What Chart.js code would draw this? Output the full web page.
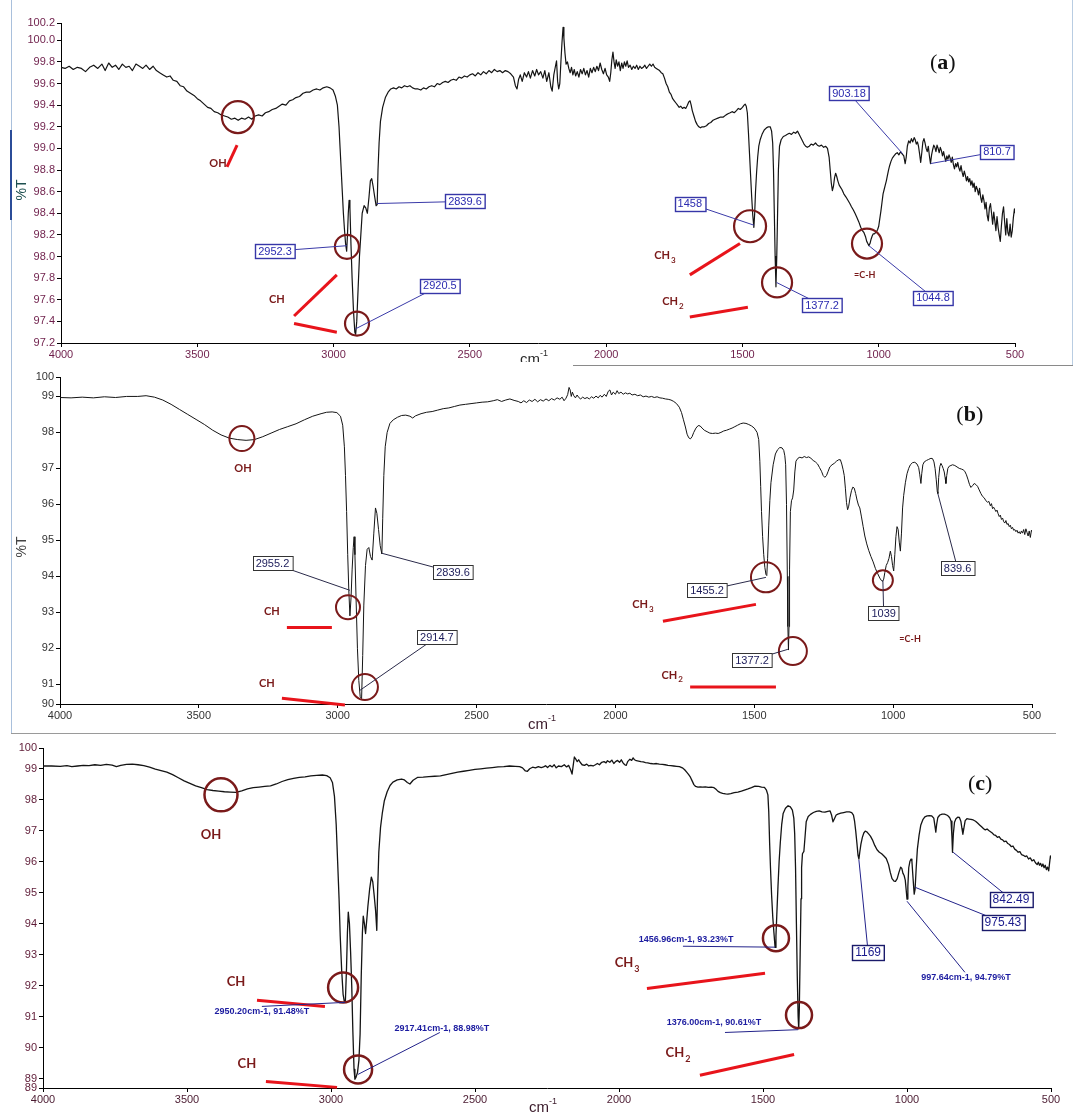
<!DOCTYPE html>
<html>
<head>
<meta charset="utf-8">
<script src="https://cdn.jsdelivr.net/npm/chart.js@4.4.1/dist/chart.umd.min.js"></script>
<style>
  body { margin: 0; background: #fff; }
  #page { position: relative; width: 1078px; height: 1115px; overflow: hidden; background: #fff; }
  canvas { position: absolute; left: 0; }
  .rule { position: absolute; }
</style>
</head>
<body>
<div id="page">
  <div class="rule" style="left:11px;top:0;width:1px;height:733px;background:#a9c0dc"></div>
  <div class="rule" style="left:10px;top:130px;width:2px;height:90px;background:#2b4c98"></div>
  <div class="rule" style="left:1072px;top:0;width:1px;height:365px;background:#b9cde2"></div>
  <div class="rule" style="left:573px;top:365px;width:500px;height:1px;background:#8a8a8a"></div>
  <div class="rule" style="left:11px;top:733px;width:1045px;height:1px;background:#9a9a9a"></div>
  <canvas id="chartA" width="1078" height="362" style="top:0"></canvas>
  <canvas id="chartB" width="1078" height="371" style="top:362px"></canvas>
  <canvas id="chartC" width="1078" height="382" style="top:733px"></canvas>
</div>
<script>
const tickFont = "'Liberation Sans', Arial, sans-serif";
const noteFont = "Lato, 'Liberation Sans', sans-serif";
const maroon = '#7a1a1a';
const red = '#e8141b';

const xTicks = [4000, 3500, 3000, 2500, 2000, 1500, 1000, 500];
const yTicksA = [97.2, 97.4, 97.6, 97.8, 98.0, 98.2, 98.4, 98.6, 98.8, 99.0, 99.2, 99.4, 99.6, 99.8, 100.0, 100.16];
const yTicksB = [90.45, 91, 92, 93, 94, 95, 96, 97, 98, 99, 99.54];
const yTicksC = [88.7, 89, 90, 91, 92, 93, 94, 95, 96, 97, 98, 99, 99.66];

// spectrum (a): [wavenumber cm-1, %T]
const specA = [
  [4000,99.75],[3985,99.74],[3970,99.76],[3955,99.73],[3940,99.75],[3925,99.74],[3910,99.71],[3895,99.75],[3880,99.77],[3865,99.74],
  [3850,99.78],[3838,99.72],[3825,99.79],[3812,99.75],[3800,99.77],[3788,99.73],[3775,99.78],[3762,99.75],[3750,99.76],[3738,99.72],
  [3725,99.78],[3712,99.76],[3700,99.74],[3688,99.77],[3675,99.73],[3662,99.76],[3650,99.72],[3638,99.70],[3625,99.68],[3612,99.66],
  [3600,99.67],[3588,99.63],[3575,99.62],[3563,99.58],[3550,99.57],[3538,99.53],[3525,99.51],[3512,99.49],[3500,99.46],[3488,99.44],
  [3475,99.41],[3462,99.38],[3450,99.37],[3438,99.34],[3425,99.33],[3412,99.31],[3400,99.30],[3388,99.29],[3375,99.27],[3362,99.28],
  [3350,99.26],[3338,99.28],[3325,99.27],[3312,99.29],[3300,99.27],[3288,99.30],[3275,99.31],[3262,99.30],[3250,99.33],[3238,99.34],
  [3225,99.36],[3212,99.37],[3200,99.39],[3188,99.41],[3175,99.40],[3162,99.44],[3150,99.45],[3138,99.47],[3125,99.48],[3112,99.51],
  [3100,99.52],[3088,99.52],[3075,99.54],[3062,99.55],[3050,99.54],[3038,99.56],[3025,99.57],[3013,99.56],[3002,99.54],[2993,99.48],
  [2986,99.40],[2980,99.20],[2976,99.00],[2972,98.80],[2968,98.60],[2964,98.40],[2960,98.25],[2956,98.12],[2952,98.05],[2949,98.20],
  [2946,98.40],[2943,98.52],[2940,98.45],[2936,98.10],[2932,97.80],[2927,97.50],[2922,97.30],[2919,97.28],[2915,97.40],[2910,97.70],
  [2905,98.00],[2900,98.20],[2895,98.40],[2888,98.47],[2882,98.45],[2876,98.40],[2870,98.55],[2865,98.70],[2860,98.72],[2855,98.65],
  [2849,98.55],[2844,98.47],[2840,98.48],[2837,98.80],[2833,99.05],[2828,99.25],[2820,99.38],[2810,99.47],[2800,99.52],[2790,99.55],
  [2780,99.56],[2770,99.55],[2760,99.57],[2750,99.56],[2740,99.58],[2730,99.57],[2720,99.58],[2710,99.56],[2700,99.55],[2690,99.55],
  [2680,99.54],[2670,99.56],[2660,99.55],[2650,99.57],[2640,99.58],[2630,99.57],[2620,99.60],[2610,99.59],[2600,99.61],[2590,99.62],
  [2580,99.61],[2570,99.63],[2560,99.64],[2550,99.63],[2540,99.66],[2530,99.65],[2520,99.67],[2510,99.66],[2500,99.68],[2490,99.69],
  [2480,99.67],[2470,99.70],[2460,99.68],[2450,99.71],[2440,99.69],[2430,99.72],[2420,99.70],[2410,99.73],[2400,99.71],[2390,99.72],
  [2380,99.70],[2370,99.72],[2360,99.71],[2350,99.69],[2340,99.66],[2333,99.58],[2327,99.55],[2321,99.64],[2315,99.68],[2308,99.62],
  [2300,99.70],[2292,99.66],[2285,99.71],[2278,99.65],[2270,99.72],[2262,99.67],[2255,99.73],[2248,99.68],[2240,99.71],[2232,99.65],
  [2225,99.72],[2218,99.62],[2210,99.70],[2203,99.57],[2198,99.53],[2192,99.68],[2186,99.76],[2182,99.81],[2178,99.62],[2174,99.55],
  [2170,99.60],[2166,99.80],[2162,99.98],[2158,100.12],[2155,100.02],[2151,99.88],[2147,99.78],[2142,99.80],[2137,99.74],[2132,99.70],
  [2127,99.75],[2122,99.68],[2117,99.73],[2112,99.67],[2106,99.71],[2100,99.66],[2094,99.73],[2088,99.69],[2082,99.74],[2076,99.68],
  [2070,99.72],[2064,99.66],[2058,99.74],[2052,99.70],[2046,99.75],[2040,99.71],[2034,99.76],[2028,99.72],[2022,99.79],[2016,99.73],
  [2010,99.69],[2004,99.74],[1998,99.68],[1992,99.66],[1987,99.62],[1983,99.70],[1979,99.82],[1975,99.89],[1971,99.80],[1967,99.74],
  [1963,99.82],[1958,99.76],[1953,99.80],[1948,99.72],[1943,99.79],[1938,99.74],[1933,99.80],[1928,99.76],[1923,99.81],[1918,99.75],
  [1912,99.77],[1906,99.73],[1900,99.76],[1894,99.74],[1888,99.77],[1882,99.73],[1876,99.76],[1870,99.74],[1864,99.75],[1858,99.77],
  [1852,99.74],[1846,99.76],[1840,99.78],[1834,99.76],[1828,99.78],[1822,99.75],[1816,99.74],[1810,99.73],[1804,99.72],[1798,99.70],
  [1792,99.69],[1786,99.65],[1780,99.60],[1774,99.57],[1768,99.52],[1762,99.50],[1756,99.46],[1750,99.44],[1744,99.42],[1738,99.40],
  [1732,99.38],[1726,99.39],[1720,99.37],[1714,99.38],[1708,99.37],[1702,99.40],[1697,99.43],[1692,99.44],[1688,99.40],[1684,99.35],
  [1678,99.30],[1672,99.25],[1666,99.22],[1660,99.20],[1654,99.19],[1648,99.20],[1640,99.20],[1632,99.21],[1624,99.23],[1616,99.24],
  [1608,99.26],[1600,99.27],[1590,99.28],[1580,99.29],[1570,99.29],[1560,99.31],[1553,99.32],[1545,99.33],[1538,99.34],[1530,99.33],
  [1522,99.35],[1515,99.37],[1508,99.36],[1500,99.38],[1494,99.40],[1490,99.41],[1486,99.39],[1482,99.33],[1478,99.15],[1474,98.95],
  [1470,98.75],[1466,98.55],[1462,98.38],[1458,98.27],[1455,98.40],[1452,98.60],[1448,98.78],[1444,98.92],[1440,99.02],[1435,99.08],
  [1428,99.13],[1420,99.17],[1412,99.19],[1405,99.20],[1398,99.20],[1393,99.16],[1389,99.05],[1386,98.80],[1383,98.40],[1380,98.00],
  [1377,97.72],[1374,98.00],[1371,98.40],[1368,98.80],[1364,99.02],[1358,99.08],[1350,99.11],[1342,99.12],[1335,99.13],[1328,99.14],
  [1320,99.13],[1312,99.15],[1305,99.14],[1298,99.16],[1292,99.13],[1286,99.10],[1280,99.07],[1274,99.04],[1268,99.02],[1262,99.01],
  [1255,99.02],[1248,99.04],[1240,99.03],[1232,99.05],[1225,99.03],[1218,99.02],[1210,99.03],[1202,99.01],[1195,99.02],[1188,99.00],
  [1182,98.92],[1178,98.80],[1174,98.68],[1170,98.61],[1166,98.65],[1162,98.73],[1158,98.77],[1154,98.74],[1150,98.70],[1145,98.66],
  [1140,98.64],[1135,98.62],[1128,98.58],[1120,98.55],[1113,98.52],[1106,98.49],[1100,98.46],[1093,98.43],[1087,98.40],[1080,98.36],
  [1073,98.32],[1066,98.27],[1060,98.24],[1054,98.22],[1048,98.18],[1044,98.14],[1040,98.12],[1036,98.10],[1032,98.12],[1028,98.16],
  [1024,98.19],[1020,98.21],[1016,98.21],[1012,98.22],[1008,98.23],[1004,98.25],[1000,98.28],[996,98.35],[992,98.42],[988,98.50],
  [984,98.58],[980,98.62],[976,98.66],[972,98.70],[968,98.75],[964,98.80],[960,98.84],[955,98.88],[950,98.91],[944,98.93],
  [938,98.95],[932,98.96],[926,98.94],[920,98.97],[914,98.95],[908,98.93],[903,98.86],[899,98.92],[895,99.02],[890,99.07],
  [885,99.05],[880,99.09],[875,99.06],[870,99.10],[866,99.08],[862,99.04],[858,99.06],[854,99.02],[850,98.95],[846,98.87],
  [842,98.96],[838,99.06],[834,99.09],[830,99.05],[826,99.00],[822,98.97],[818,99.02],[814,98.93],[810,98.86],[806,98.94],
  [802,98.99],[798,99.03],[794,99.01],[790,98.97],[786,99.03],[782,99.00],[778,98.96],[774,99.01],[770,98.98],[766,98.93],
  [762,98.97],[758,98.92],[754,98.88],[750,98.93],[746,98.90],[742,98.94],[738,98.91],[734,98.87],[730,98.92],[726,98.85],
  [722,98.81],[718,98.86],[714,98.83],[710,98.87],[706,98.82],[702,98.79],[698,98.84],[694,98.78],[690,98.74],[686,98.79],
  [682,98.75],[678,98.70],[674,98.74],[670,98.69],[666,98.72],[662,98.66],[658,98.70],[654,98.64],[650,98.68],[646,98.60],
  [642,98.65],[638,98.62],[634,98.57],[630,98.63],[626,98.55],[622,98.50],[618,98.57],[614,98.52],[610,98.44],[606,98.50],
  [602,98.38],[598,98.33],[594,98.45],[590,98.49],[586,98.40],[582,98.30],[578,98.41],[574,98.33],[570,98.24],[566,98.37],
  [562,98.27],[558,98.20],[554,98.14],[550,98.28],[546,98.40],[542,98.46],[538,98.32],[534,98.20],[530,98.35],[526,98.22],
  [522,98.19],[518,98.30],[514,98.18],[510,98.24],[506,98.36],[502,98.44],[500,98.40]
];

// spectrum (b)
const specB = [
  [4000,98.97],[3960,98.96],[3920,98.98],[3880,98.96],[3840,98.99],[3800,98.97],[3760,99.00],[3720,99.00],[3690,99.02],[3660,98.98],
  [3630,98.90],[3600,98.78],[3570,98.64],[3540,98.50],[3510,98.36],[3480,98.22],[3450,98.06],[3420,97.93],[3390,97.84],[3360,97.80],
  [3330,97.78],[3300,97.80],[3270,97.88],[3240,97.98],[3210,98.08],[3180,98.16],[3150,98.24],[3120,98.35],[3090,98.45],[3060,98.52],
  [3040,98.56],[3020,98.57],[3003,98.55],[2990,98.45],[2982,98.20],[2976,97.60],[2972,96.80],[2968,95.80],[2964,94.60],[2960,93.60],
  [2956,92.90],[2952,93.40],[2948,94.20],[2944,94.80],[2941,95.10],[2938,94.60],[2934,93.40],[2929,92.00],[2924,91.10],[2919,90.65],
  [2914,90.60],[2910,91.80],[2906,93.20],[2900,94.30],[2894,94.75],[2888,94.80],[2882,94.55],[2876,94.45],[2870,95.20],[2864,95.90],
  [2859,95.75],[2853,95.30],[2847,94.85],[2841,94.62],[2838,95.60],[2834,96.80],[2829,97.60],[2822,98.00],[2812,98.25],[2800,98.35],
  [2785,98.42],[2770,98.47],[2755,98.48],[2740,98.45],[2730,98.40],[2720,98.46],[2700,98.52],[2680,98.56],[2660,98.58],[2640,98.62],
  [2620,98.66],[2600,98.68],[2580,98.72],[2560,98.76],[2540,98.78],[2520,98.80],[2500,98.82],[2480,98.84],[2460,98.85],[2440,98.88],
  [2425,98.91],[2410,98.86],[2395,98.90],[2380,98.93],[2365,98.89],[2350,98.86],[2340,98.82],[2330,98.88],[2320,98.83],[2310,98.90],
  [2300,98.86],[2290,98.92],[2280,98.85],[2270,98.91],[2260,98.87],[2250,98.93],[2240,98.88],[2230,98.94],[2220,98.90],[2210,98.96],
  [2200,98.92],[2192,98.98],[2185,98.88],[2178,98.95],[2172,99.05],[2167,99.25],[2163,99.18],[2159,99.00],[2155,99.12],[2150,99.02],
  [2144,98.96],[2138,99.04],[2132,98.97],[2125,98.93],[2118,98.98],[2110,98.94],[2102,98.97],[2094,98.93],[2086,98.99],[2078,98.95],
  [2070,99.01],[2062,98.96],[2055,99.03],[2048,98.98],[2040,99.06],[2033,99.00],[2026,99.14],[2020,99.18],[2014,99.04],[2008,99.12],
  [2000,99.06],[1994,99.16],[1988,99.08],[1980,99.12],[1972,99.06],[1964,99.10],[1956,99.07],[1948,99.09],[1940,99.04],[1930,99.06],
  [1920,99.02],[1910,99.04],[1900,98.99],[1890,99.01],[1880,98.98],[1870,99.00],[1860,98.97],[1850,98.99],[1840,98.96],[1830,98.95],
  [1820,98.93],[1810,98.92],[1800,98.90],[1790,98.86],[1780,98.80],[1770,98.70],[1762,98.55],[1755,98.35],[1748,98.15],[1742,97.95],
  [1736,97.85],[1730,97.82],[1724,97.88],[1718,98.00],[1710,98.12],[1702,98.19],[1695,98.18],[1688,98.12],[1680,98.06],[1670,98.02],
  [1660,97.98],[1650,97.97],[1640,97.98],[1630,97.97],[1620,98.00],[1610,98.04],[1600,98.06],[1590,98.09],[1580,98.12],[1570,98.16],
  [1560,98.20],[1550,98.24],[1540,98.26],[1530,98.25],[1520,98.22],[1510,98.18],[1500,98.12],[1490,98.00],[1484,97.80],[1480,97.20],
  [1477,96.50],[1474,95.80],[1470,95.10],[1466,94.60],[1462,94.25],[1458,94.05],[1455,94.02],[1452,94.50],[1448,95.40],[1444,96.10],
  [1440,96.60],[1432,97.10],[1424,97.40],[1416,97.52],[1408,97.58],[1400,97.57],[1394,97.50],[1390,97.35],[1387,97.10],[1384,96.00],
  [1381,94.00],[1379,92.60],[1377,91.95],[1375,92.60],[1373,94.20],[1370,95.80],[1366,96.10],[1362,96.18],[1358,96.40],[1354,96.90],
  [1350,97.20],[1343,97.28],[1336,97.31],[1328,97.29],[1320,97.33],[1312,97.30],[1304,97.32],[1296,97.28],[1288,97.22],[1280,97.18],
  [1272,97.12],[1265,97.02],[1258,96.92],[1252,96.80],[1246,96.75],[1240,96.80],[1234,96.92],[1228,97.04],[1220,97.10],[1212,97.14],
  [1204,97.20],[1196,97.24],[1190,97.24],[1185,97.12],[1180,96.96],[1176,96.80],[1172,96.45],[1168,96.05],[1164,95.85],[1160,95.95],
  [1155,96.20],[1150,96.38],[1145,96.48],[1140,96.45],[1135,96.30],[1130,96.12],[1125,95.98],[1120,95.90],[1114,95.65],[1108,95.38],
  [1102,95.12],[1095,94.90],[1088,94.72],[1080,94.55],[1072,94.40],[1064,94.22],[1056,94.08],[1048,93.95],[1042,93.88],[1038,93.86],
  [1034,93.92],[1030,94.10],[1025,94.30],[1020,94.38],[1015,94.50],[1010,94.70],[1006,94.55],[1002,94.30],[998,94.15],[994,94.60],
  [990,95.10],[986,95.38],[982,95.30],[978,94.95],[974,94.70],[970,95.20],[966,95.90],[962,96.25],[956,96.60],[950,96.85],
  [944,97.00],[938,97.10],[930,97.16],[922,97.17],[914,97.12],[908,97.02],[904,96.82],[900,96.58],[897,96.85],[893,97.10],
  [888,97.18],[880,97.22],[872,97.25],[864,97.28],[858,97.27],[853,97.18],[849,97.00],[845,96.70],[841,96.35],[839,96.30],
  [836,96.75],[832,97.05],[828,97.14],[824,97.08],[820,97.00],[816,96.90],[813,96.75],[810,96.58],[807,96.80],[803,97.00],
  [798,97.06],[792,97.08],[786,97.10],[778,97.08],[770,97.04],[762,97.00],[754,96.98],[748,96.96],[742,96.92],[736,96.82],
  [730,96.68],[725,96.55],[720,96.47],[714,96.52],[708,96.58],[702,96.55],[696,96.50],[690,96.40],[684,96.30],[678,96.22],
  [672,96.18],[666,96.10],[660,96.06],[655,96.08],[650,95.96],[646,96.02],[642,95.88],[638,95.92],[634,95.86],[630,95.80],
  [626,95.84],[622,95.74],[618,95.66],[614,95.70],[610,95.58],[606,95.62],[602,95.52],[598,95.48],[594,95.55],[590,95.44],
  [586,95.47],[582,95.38],[578,95.42],[574,95.32],[570,95.36],[566,95.28],[562,95.30],[558,95.24],[554,95.28],[550,95.20],
  [546,95.24],[542,95.18],[538,95.26],[534,95.20],[530,95.30],[526,95.16],[522,95.32],[518,95.22],[514,95.12],[510,95.26],
  [506,95.08],[502,95.28],[500,95.24]
];

// spectrum (c)
const specC = [
  [4000,99.08],[3970,99.08],[3940,99.07],[3917,99.09],[3900,99.06],[3880,99.08],[3860,99.10],[3840,99.09],[3820,99.12],[3800,99.10],
  [3780,99.13],[3760,99.11],[3745,99.06],[3730,99.10],[3710,99.13],[3690,99.14],[3670,99.12],[3650,99.09],[3630,99.04],[3610,98.98],
  [3590,98.93],[3570,98.88],[3550,98.80],[3530,98.70],[3510,98.60],[3490,98.52],[3470,98.44],[3450,98.38],[3430,98.32],[3410,98.29],
  [3390,98.27],[3370,98.25],[3350,98.24],[3330,98.23],[3310,98.28],[3290,98.34],[3270,98.38],[3250,98.40],[3230,98.42],[3210,98.44],
  [3190,98.50],[3170,98.58],[3150,98.64],[3130,98.68],[3110,98.71],[3090,98.73],[3070,98.76],[3050,98.78],[3030,98.79],[3015,98.77],
  [3003,98.70],[2995,98.55],[2988,98.10],[2982,97.20],[2977,96.00],[2972,94.80],[2968,93.60],[2963,92.50],[2958,91.72],[2954,91.50],
  [2950,91.52],[2946,92.60],[2943,93.70],[2940,94.37],[2936,94.00],[2932,93.10],[2928,92.00],[2924,90.50],[2920,89.30],[2917,88.98],
  [2913,89.05],[2908,89.20],[2903,89.60],[2899,90.43],[2895,92.30],[2891,93.70],[2888,94.24],[2884,94.00],[2880,93.68],[2876,94.10],
  [2872,94.55],[2866,95.10],[2860,95.50],[2855,95.35],[2850,94.90],[2845,94.40],[2841,93.78],[2838,95.10],[2834,96.30],[2828,97.10],
  [2822,97.55],[2815,97.95],[2805,98.25],[2795,98.45],[2785,98.56],[2770,98.63],[2755,98.66],[2745,98.63],[2735,98.55],[2726,98.50],
  [2715,98.62],[2700,98.71],[2680,98.72],[2660,98.74],[2640,98.75],[2620,98.76],[2600,98.80],[2580,98.84],[2560,98.88],[2540,98.91],
  [2520,98.94],[2500,98.97],[2480,98.99],[2460,99.01],[2440,99.03],[2420,99.05],[2400,99.06],[2380,99.08],[2360,99.07],[2345,99.06],
  [2335,99.02],[2325,98.92],[2318,98.91],[2310,98.99],[2300,99.04],[2290,99.02],[2280,99.06],[2270,99.03],[2262,99.05],[2255,99.09],
  [2248,99.03],[2240,99.10],[2232,99.05],[2225,99.12],[2218,99.02],[2210,99.08],[2200,99.06],[2190,99.12],[2182,99.05],[2175,99.10],
  [2168,98.96],[2163,98.82],[2159,99.10],[2155,99.37],[2150,99.30],[2145,99.22],[2140,99.28],[2135,99.20],[2128,99.12],[2120,99.10],
  [2112,99.14],[2105,99.08],[2098,99.10],[2090,99.08],[2082,99.12],[2075,99.16],[2068,99.12],[2060,99.20],[2052,99.22],[2045,99.18],
  [2040,99.25],[2032,99.20],[2025,99.27],[2018,99.16],[2012,99.22],[2005,99.26],[1998,99.20],[1992,99.28],[1986,99.18],[1980,99.12],
  [1975,99.10],[1970,99.22],[1962,99.30],[1956,99.26],[1951,99.34],[1946,99.28],[1940,99.25],[1932,99.24],[1924,99.22],[1916,99.21],
  [1908,99.19],[1900,99.18],[1890,99.16],[1880,99.15],[1870,99.16],[1860,99.14],[1850,99.13],[1840,99.12],[1830,99.10],[1820,99.09],
  [1810,99.08],[1800,99.07],[1790,99.06],[1780,99.02],[1772,98.96],[1765,98.88],[1758,98.80],[1752,98.72],[1746,98.60],[1740,98.48],
  [1734,98.42],[1726,98.40],[1718,98.41],[1710,98.40],[1700,98.41],[1690,98.39],[1680,98.40],[1670,98.38],[1662,98.32],[1656,98.26],
  [1648,98.22],[1640,98.20],[1630,98.18],[1622,98.17],[1612,98.19],[1600,98.22],[1587,98.24],[1575,98.27],[1562,98.31],[1552,98.34],
  [1540,98.38],[1528,98.43],[1515,98.42],[1505,98.40],[1495,98.39],[1488,98.30],[1483,98.15],[1480,97.60],[1477,96.60],[1474,95.80],
  [1470,94.90],[1466,94.20],[1462,93.70],[1458,93.23],[1455,93.60],[1452,94.30],[1448,95.20],[1444,96.00],[1440,96.60],[1435,97.20],
  [1430,97.55],[1422,97.72],[1413,97.80],[1405,97.76],[1398,97.66],[1393,97.40],[1390,96.90],[1387,95.80],[1384,94.00],[1381,92.30],
  [1378,91.00],[1376,90.61],[1374,91.20],[1371,93.00],[1368,94.80],[1366,95.80],[1363,96.25],[1358,96.33],[1354,96.80],[1350,97.28],
  [1343,97.45],[1335,97.52],[1325,97.58],[1315,97.62],[1305,97.63],[1295,97.60],[1285,97.59],[1275,97.62],[1267,97.63],[1262,97.50],
  [1257,97.28],[1252,97.38],[1246,97.50],[1240,97.53],[1230,97.56],[1220,97.58],[1210,97.60],[1200,97.60],[1192,97.58],[1186,97.50],
  [1182,97.30],[1178,96.98],[1174,96.60],[1170,96.20],[1167,96.08],[1164,96.30],[1160,96.56],[1155,96.78],[1150,96.92],[1145,96.98],
  [1140,96.96],[1134,96.90],[1127,96.82],[1120,96.70],[1112,96.52],[1104,96.38],[1096,96.30],[1088,96.25],[1080,96.18],[1072,96.10],
  [1064,95.90],[1058,95.65],[1052,95.45],[1045,95.37],[1040,95.36],[1034,95.45],[1028,95.65],[1022,95.82],[1018,95.78],[1014,95.62],
  [1010,95.55],[1006,95.40],[1003,95.10],[1000,94.79],[997,95.20],[994,95.80],[990,96.00],[986,96.08],[983,96.02],[980,95.60],
  [977,95.20],[975,94.95],[972,95.10],[968,95.80],[964,96.40],[958,96.85],[952,97.18],[945,97.35],[938,97.44],[930,97.47],
  [922,97.48],[914,97.47],[907,97.40],[903,97.15],[900,96.95],[897,97.20],[893,97.42],[886,97.50],[878,97.53],[870,97.53],
  [862,97.50],[856,97.46],[851,97.40],[847,97.30],[844,96.80],[842,96.30],[839,96.90],[835,97.27],[830,97.38],[824,97.43],
  [818,97.42],[813,97.30],[809,97.05],[806,96.88],[802,97.10],[798,97.32],[792,97.38],[785,97.37],[778,97.36],[770,97.34],
  [762,97.30],[755,97.24],[748,97.18],[741,97.12],[734,97.06],[728,97.02],[722,97.05],[716,97.00],[710,96.96],[704,96.92],
  [698,96.86],[692,96.84],[686,96.78],[680,96.80],[674,96.72],[668,96.70],[662,96.64],[656,96.66],[650,96.58],[644,96.55],
  [638,96.48],[632,96.50],[626,96.40],[620,96.36],[614,96.30],[608,96.32],[602,96.22],[596,96.20],[590,96.16],[584,96.18],
  [578,96.08],[572,96.12],[566,96.02],[560,96.06],[554,95.96],[548,95.90],[544,95.98],[540,95.88],[536,95.94],[532,95.84],
  [528,95.92],[524,95.80],[520,95.88],[516,95.74],[512,95.82],[508,95.70],[505,95.95],[502,96.18],[500,96.10]
];

// annotations, in data units [cm-1, %T]
const circlesA = [[3351, 99.29], [2951, 98.09], [2914, 97.38], [1472, 98.28], [1373, 97.76], [1043, 98.12]];
const circlesB = [[3345, 97.83], [2963, 93.14], [2902, 90.92], [1458, 93.97], [1361, 91.92], [1037, 93.89]];
const circlesC = [[3382, 98.15], [2958, 91.94], [2906, 89.30], [1455, 93.53], [1375, 91.05]];

const strokesA = [[3354, 99.03, 3391, 98.83], [2988, 97.83, 3145, 97.45], [3145, 97.38, 2988, 97.30], [1693, 97.83, 1509, 98.12], [1693, 97.44, 1480, 97.53]];
const strokesB = [[3183, 92.58, 3021, 92.58], [3201, 90.61, 2974, 90.42], [1829, 92.75, 1494, 93.22], [1731, 90.92, 1422, 90.92]];
const strokesC = [[3257, 91.53, 3021, 91.33], [3226, 88.91, 2979, 88.72], [1903, 91.91, 1493, 92.40], [1719, 89.11, 1392, 89.78]];

const groupsA = [['OH', '', 3424, 98.86], ['CH', '', 3208, 97.60], ['CH', '3', 1784, 98.01], ['CH', '2', 1755, 97.58], ['=C-H', '', 1051, 97.83]];
const groupsB = [['OH', '', 3341, 97.00], ['CH', '', 3237, 93.03], ['CH', '', 3255, 91.03], ['CH', '3', 1901, 93.22], ['CH', '2', 1796, 91.25], ['=C-H', '', 939, 92.25]];
const groupsC = [['OH', '', 3417, 96.85], ['CH', '', 3330, 92.11], ['CH', '', 3292, 89.49], ['CH', '3', 1972, 92.72], ['CH', '2', 1795, 89.82]];

// [label, label cm-1, label %T, peak cm-1, peak %T]
const peaksA = [
  ['2952.3', 3215, 98.05, 2951, 98.10], ['2839.6', 2518, 98.51, 2841, 98.49], ['2920.5', 2610, 97.73, 2920, 97.33],
  ['1458', 1693, 98.49, 1458, 98.29], ['1377.2', 1208, 97.55, 1375, 97.76], ['1044.8', 801, 97.62, 1036, 98.10],
  ['903.18', 1109, 99.51, 912, 98.95], ['810.7', 566, 98.97, 809, 98.86]
];
const peaksB = [
  ['2955.2', 3235, 94.36, 2956, 93.61], ['2839.6', 2585, 94.11, 2841, 94.64], ['2914.7', 2643, 92.31, 2920, 90.83],
  ['1455.2', 1670, 93.61, 1458, 93.97], ['1377.2', 1508, 91.67, 1379, 91.97], ['1039', 1034, 92.97, 1037, 93.89],
  ['839.6', 768, 94.22, 839, 96.30]
];
const peaksC = [['1169', 1135, 93.08, 1167, 96.05], ['975.43', 667, 94.04, 972, 95.17], ['842.49', 639, 94.79, 840, 96.30]];

// readouts of panel (c): [text, cm-1, %T, lead from cm-1, %T, to cm-1, %T]
const readoutsC = [
  ['2950.20cm-1, 91.48%T', 3240, 91.17, 3240, 91.33, 2951, 91.46],
  ['2917.41cm-1, 88.98%T', 2615, 90.62, 2906, 89.14, 2622, 90.49],
  ['1456.96cm-1, 93.23%T', 1767, 93.49, 1778, 93.27, 1458, 93.24],
  ['1376.00cm-1, 90.61%T', 1670, 90.82, 1632, 90.49, 1378, 90.58],
  ['997.64cm-1, 94.79%T', 795, 92.27, 1000, 94.72, 799, 92.43]
];

const panelTags = [['a', 765, 99.79], ['b', 724, 98.47], ['c', 746, 98.48]];

function makeNotes(n) {
  return {
    id: 'notes',
    afterDraw(chart) {
      const ctx = chart.ctx;
      const X = v => chart.scales.x.getPixelForValue(v);
      const Y = v => chart.scales.y.getPixelForValue(v);
      const area = chart.chartArea;
      ctx.save();

      // red guide strokes
      ctx.strokeStyle = red;
      ctx.lineWidth = 3;
      n.strokes.forEach(([w1, t1, w2, t2]) => {
        ctx.beginPath(); ctx.moveTo(X(w1), Y(t1)); ctx.lineTo(X(w2), Y(t2)); ctx.stroke();
      });

      // circles
      ctx.strokeStyle = maroon;
      ctx.lineWidth = n.circleWidth;
      n.circles.forEach(([w, t], i) => {
        ctx.beginPath(); ctx.arc(X(w), Y(t), n.radii[i], 0, Math.PI * 2); ctx.stroke();
      });

      // group names
      ctx.fillStyle = maroon;
      ctx.textBaseline = 'middle';
      n.groups.forEach(([main, sub, w, t]) => {
        const size = main === '=C-H' ? n.groupSize - 2 : n.groupSize;
        ctx.font = `bold ${size}px ${noteFont}`;
        const mw = ctx.measureText(main).width;
        ctx.font = `bold ${Math.round(size * 0.72)}px ${noteFont}`;
        const sw = sub ? ctx.measureText(sub).width + 1 : 0;
        let x0 = X(w) - (mw + sw) / 2;
        ctx.textAlign = 'left';
        ctx.font = `bold ${size}px ${noteFont}`;
        ctx.fillText(main, x0, Y(t));
        if (sub) {
          ctx.font = `bold ${Math.round(size * 0.72)}px ${noteFont}`;
          ctx.fillText(sub, x0 + mw + 1, Y(t) + size * 0.42);
        }
      });

      // boxed peak values
      ctx.font = `${n.boxSize}px ${tickFont}`;
      n.peaks.forEach(([txt, w, t, pw, pt]) => {
        ctx.strokeStyle = n.leadColor; ctx.lineWidth = 1;
        ctx.beginPath(); ctx.moveTo(X(pw), Y(pt)); ctx.lineTo(X(w), Y(t)); ctx.stroke();
      });
      n.peaks.forEach(([txt, w, t]) => {
        const tw = ctx.measureText(txt).width;
        const bw = tw + 6, bh = n.boxSize + 3;
        const bx = Math.round(X(w) - bw / 2) + 0.5, by = Math.round(Y(t) - bh / 2) + 0.5;
        ctx.fillStyle = '#fff'; ctx.fillRect(bx, by, bw, bh);
        ctx.strokeStyle = n.boxBorder; ctx.lineWidth = n.boxLine; ctx.strokeRect(bx, by, bw, bh);
        ctx.fillStyle = n.boxText; ctx.textAlign = 'center'; ctx.textBaseline = 'middle';
        ctx.fillText(txt, X(w), Y(t) + 0.5);
      });

      // readouts
      (n.readouts || []).forEach(([txt, w, t, w1, t1, w2, t2]) => {
        ctx.strokeStyle = n.leadColor; ctx.lineWidth = 1;
        ctx.beginPath(); ctx.moveTo(X(w1), Y(t1)); ctx.lineTo(X(w2), Y(t2)); ctx.stroke();
        ctx.font = `bold 9px ${tickFont}`;
        ctx.fillStyle = '#1c1ca0'; ctx.textAlign = 'center'; ctx.textBaseline = 'middle';
        ctx.fillText(txt, X(w), Y(t));
      });

      // panel tag (a), (b), (c)
      const [tag, tw0, tt0] = n.tag;
      ctx.fillStyle = '#111'; ctx.textBaseline = 'middle'; ctx.textAlign = 'left';
      const pf = `22px 'Liberation Serif', serif`, bf = `bold 22px 'Liberation Serif', serif`;
      ctx.font = pf; const pw1 = ctx.measureText('(').width; const pw2 = ctx.measureText(')').width;
      ctx.font = bf; const lw = ctx.measureText(tag).width;
      let tx = X(tw0) - (pw1 + lw + pw2) / 2;
      ctx.font = pf; ctx.fillText('(', tx, Y(tt0));
      ctx.font = bf; ctx.fillText(tag, tx + pw1, Y(tt0));
      ctx.font = pf; ctx.fillText(')', tx + pw1 + lw, Y(tt0));

      // axis titles
      ctx.fillStyle = n.titleColor;
      ctx.font = `15px ${tickFont}`;
      const cw = ctx.measureText('cm').width;
      const cx = (area.left + area.right) / 2 - 8;
      const cy = area.bottom + n.cmOffset;
      ctx.textAlign = 'left'; ctx.textBaseline = 'middle';
      ctx.fillText('cm', cx - cw / 2, cy);
      ctx.font = `9px ${tickFont}`;
      ctx.fillText('-1', cx + cw / 2, cy - 6);
      if (n.yTitle) {
        ctx.save();
        ctx.translate(n.yTitle[0], n.yTitle[1]);
        ctx.rotate(-Math.PI / 2);
        ctx.font = `14px ${tickFont}`;
        ctx.fillStyle = n.yTitle[2];
        ctx.textAlign = 'center';
        ctx.fillText('%T', 0, 0);
        ctx.restore();
      }
      ctx.restore();
    }
  };
}

function buildPanel(id, spec, cfg) {
  return new Chart(document.getElementById(id), {
    type: 'scatter',
    data: {
      datasets: [{
        data: spec.map(([x, y]) => ({ x, y })),
        showLine: true,
        borderColor: '#141414',
        borderWidth: cfg.lineWidth,
        borderJoinStyle: 'round',
        pointRadius: 0,
        tension: 0,
      }],
    },
    options: {
      responsive: false,
      animation: false,
      devicePixelRatio: 1,
      layout: { padding: cfg.pad },
      plugins: { legend: { display: false }, tooltip: { enabled: false } },
      scales: {
        x: {
          type: 'linear',
          reverse: true,
          min: 500,
          max: 4000,
          afterBuildTicks: s => { s.ticks = xTicks.map(v => ({ value: v })); },
          afterFit: s => { s.height = cfg.xH; },
          ticks: {
            color: cfg.xColor,
            font: { family: tickFont, size: 11 },
            padding: 1,
            autoSkip: false,
            maxRotation: 0,
            callback: v => String(v),
          },
          grid: { display: true, drawOnChartArea: false, drawTicks: true, tickLength: 4, color: '#000' },
          border: { display: true, color: '#000', width: 1 },
        },
        y: {
          type: 'linear',
          min: cfg.yTicks[0],
          max: cfg.yTicks[cfg.yTicks.length - 1],
          afterBuildTicks: s => { s.ticks = cfg.yTicks.map(v => ({ value: v })); },
          afterFit: s => { s.width = cfg.yW; },
          ticks: {
            color: cfg.yColor,
            font: { family: tickFont, size: cfg.ySize },
            padding: 2,
            autoSkip: false,
            callback: cfg.yFormat,
          },
          grid: { display: true, drawOnChartArea: false, drawTicks: true, tickLength: 4, color: '#000' },
          border: { display: true, color: '#000', width: 1 },
        },
      },
    },
    plugins: [makeNotes(cfg.notes)],
  });
}

buildPanel('chartA', specA, {
  pad: { top: 23, left: 0, right: 63, bottom: 0 }, xH: 19, yW: 61, lineWidth: 1.2,
  yTicks: yTicksA, yFormat: v => v.toFixed(1), xColor: '#6e1e4a', yColor: '#6e1e4a', ySize: 11,
  notes: {
    circles: circlesA, radii: [16, 12, 12, 16, 15, 15], circleWidth: 2.2,
    strokes: strokesA, groups: groupsA, groupSize: 11,
    peaks: peaksA, boxSize: 11, boxText: '#2b2bb0', boxBorder: '#3636a8', boxLine: 1.4, leadColor: '#3a3aa8',
    tag: panelTags[0], titleColor: '#2a2a2a', cmOffset: 17, yTitle: [22, 190, '#1e5050'],
  },
});

buildPanel('chartB', specB, {
  pad: { top: 15, left: 0, right: 46, bottom: 0 }, xH: 29, yW: 60, lineWidth: 1,
  yTicks: yTicksB, yFormat: v => String(Math.round(v)), xColor: '#333', yColor: '#333', ySize: 11,
  notes: {
    circles: circlesB, radii: [12.5, 12, 13, 15, 14, 10], circleWidth: 2,
    strokes: strokesB, groups: groupsB, groupSize: 11,
    peaks: peaksB, boxSize: 11, boxText: '#1c1c5a', boxBorder: '#333', boxLine: 1, leadColor: '#2a2a4a',
    tag: panelTags[1], titleColor: '#3a1a2a', cmOffset: 21, yTitle: [22, 185, '#444'],
  },
});

buildPanel('chartC', specC, {
  pad: { top: 15, left: 0, right: 27, bottom: 0 }, xH: 27, yW: 43, lineWidth: 1.3,
  yTicks: yTicksC, yFormat: v => String(Math.round(v)), xColor: '#4a1a30', yColor: '#5e1a36', ySize: 11,
  notes: {
    circles: circlesC, radii: [16.5, 15, 14, 13, 13], circleWidth: 2.5,
    strokes: strokesC, groups: groupsC, groupSize: 13,
    peaks: peaksC, boxSize: 12, boxText: '#1a1a8c', boxBorder: '#1a1a6a', boxLine: 1.4, leadColor: '#22228a',
    readouts: readoutsC,
    tag: panelTags[2], titleColor: '#3a1a2a', cmOffset: 20, yTitle: null,
  },
});
</script>
</body>
</html>
